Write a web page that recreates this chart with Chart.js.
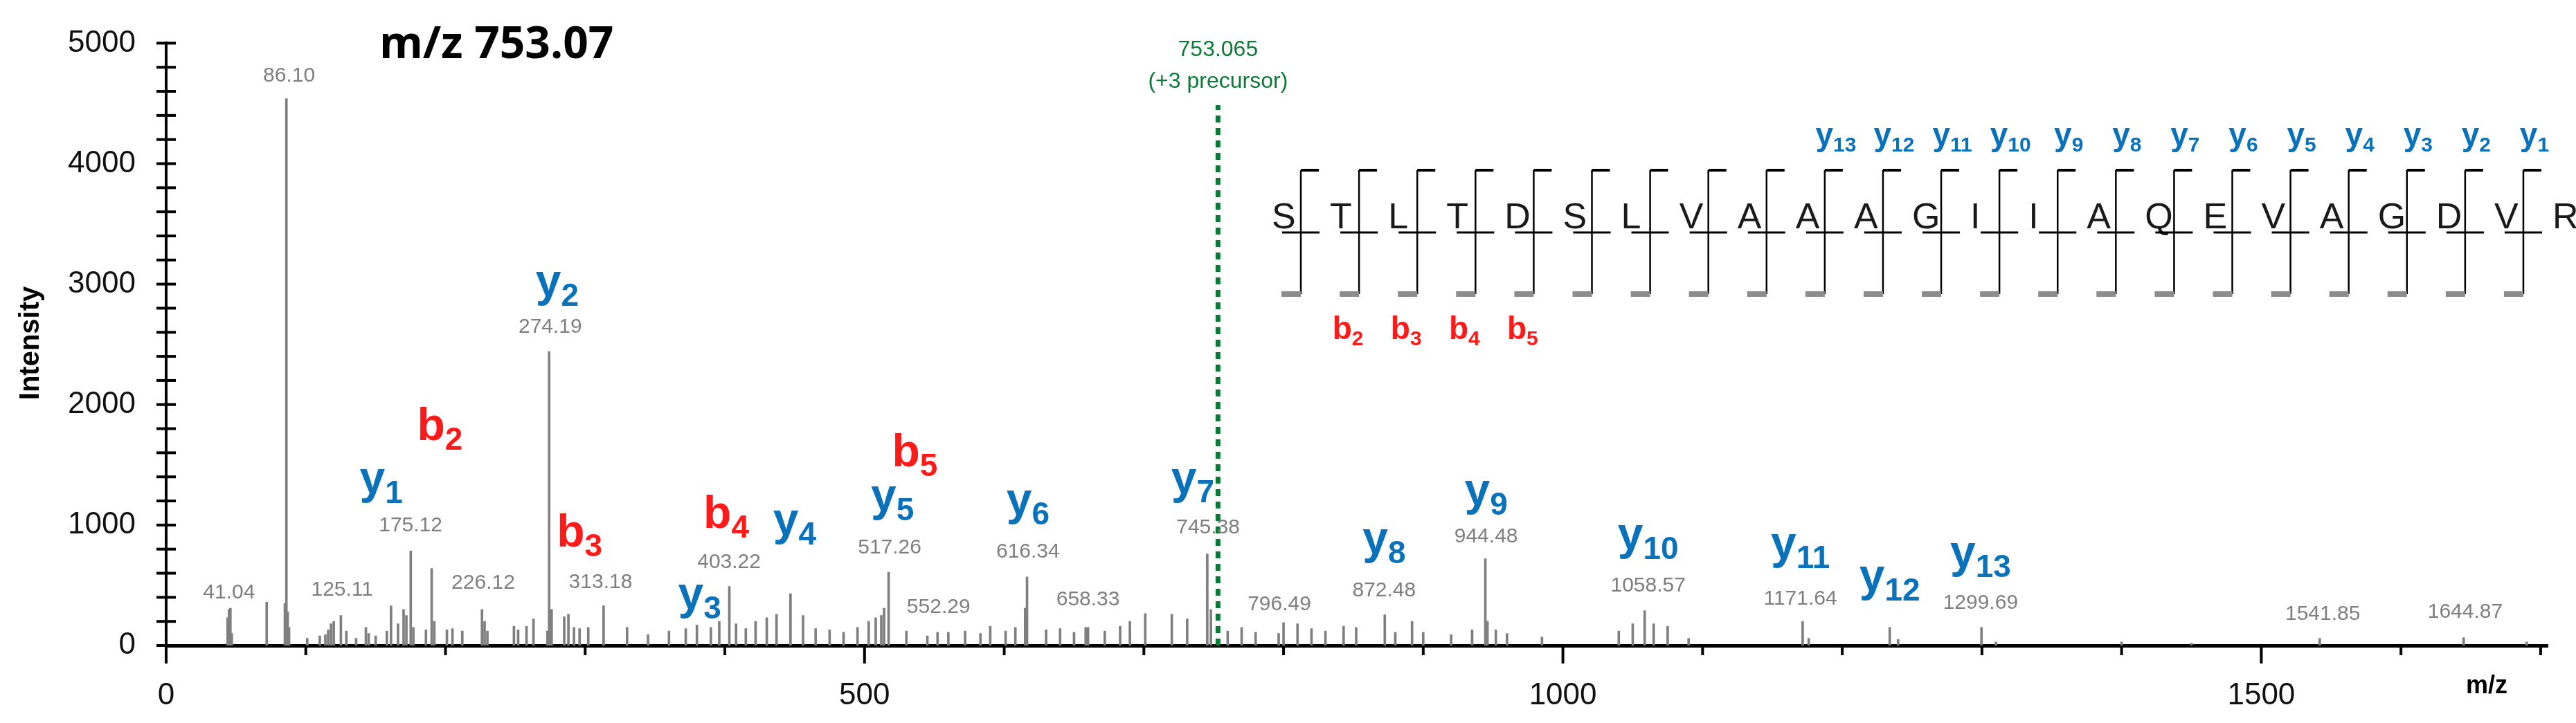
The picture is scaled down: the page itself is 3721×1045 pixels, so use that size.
<!DOCTYPE html>
<html>
<head>
<meta charset="utf-8">
<script src="https://cdn.jsdelivr.net/npm/chart.js@4.4.1/dist/chart.umd.min.js"></script>
<style>
  html, body { margin: 0; padding: 0; background: #fff; }
  #wrap { width: 3721px; height: 1045px; }
</style>
</head>
<body>
<div id="wrap"><canvas id="spec" width="3721" height="1045"></canvas></div>
<script>
// peak list: m/z and intensity
const peakMz = [44, 45, 46, 47, 72, 85, 86.1, 87, 88, 101, 110, 114, 116, 118, 120, 125.11, 129, 136, 143, 145, 150, 158, 161, 166, 170, 172, 175.12, 177, 186, 190.1, 192, 201, 205, 212, 226.12, 228, 230, 249, 252, 258, 263, 273, 274.19, 276, 285, 288, 292, 296, 302.2, 313.18,
  330, 345, 360, 372, 380, 390, 396, 403.22, 408, 415, 422, 430, 437, 447, 456, 465, 475, 485, 495, 503, 508, 512, 514, 517.26, 530, 545, 552.29, 560, 572, 583, 590, 601, 608, 615, 616.34, 630, 640, 650, 658.33, 660, 672, 683, 690, 701, 720, 731, 745.38, 748,
  760, 770, 780, 796.49, 800, 810, 820, 830, 843, 852, 872.48, 880, 892, 900, 920, 935, 944.48, 946, 952, 960, 985,
  1040, 1050, 1058.57, 1065, 1075, 1090, 1171.64, 1176, 1234, 1240, 1299.69, 1310, 1400, 1450, 1541.85, 1644.87, 1690];
const peakInt = [230, 300, 310, 100, 360, 350, 4540, 280, 150, 60, 80, 90, 130, 180, 200, 250, 120, 60, 150, 100, 80, 120, 330, 180, 300, 250, 785, 150, 130, 640, 200, 130, 140, 120, 300, 200, 120, 160, 130, 160, 220, 120, 2440, 300, 240, 260, 150, 140, 150, 330,
  150, 90, 120, 140, 170, 150, 200, 490, 180, 140, 200, 230, 260, 430, 250, 140, 130, 110, 150, 200, 230, 250, 310, 610, 120, 80, 110, 110, 120, 100, 160, 120, 150, 310, 570, 130, 140, 110, 150, 150, 120, 160, 200, 265, 260, 220, 760, 300,
  120, 150, 110, 100, 190, 180, 140, 120, 160, 150, 255, 110, 200, 110, 90, 130, 720, 200, 130, 100, 70,
  120, 180, 290, 180, 160, 60, 200, 60, 150, 50, 150, 30, 30, 20, 60, 65, 30];

// gray m/z annotations above peaks
const valueText = ['41.04', '86.10', '125.11', '175.12', '226.12', '274.19', '313.18', '403.22', '517.26', '552.29', '616.34', '658.33', '745.38', '796.49', '872.48', '944.48', '1058.57', '1171.64', '1299.69', '1541.85', '1644.87'];
const valueMz = [45, 88, 126, 175, 227, 275, 311, 403, 518, 553, 617, 660, 746, 797, 872, 945, 1061, 1170, 1299, 1544, 1646];
const valueY = [440, 4730, 463, 995, 520, 2646, 527, 690, 813, 320, 777, 383, 977, 340, 458, 905, 493, 389, 350, 258, 275];

// fragment ion labels: type, number, m/z, intensity of label centre
const ionList = [['y', '1', 154, 1357], ['b', '2', 196, 1798], ['y', '2', 280, 2995], ['b', '3', 296, 915], ['y', '3', 382, 400], ['b', '4', 401, 1070], ['y', '4', 450, 1015], ['y', '5', 520, 1215], ['b', '5', 536, 1580], ['y', '6', 617, 1180], ['y', '7', 735, 1360], ['y', '8', 872, 857], ['y', '9', 945, 1260], ['y', '10', 1061, 893], ['y', '11', 1170, 819], ['y', '12', 1234, 550], ['y', '13', 1299, 745]];

const precursorMz = 753.065;
const precursorTop = 4485;
const precursorText = ['753.065', '(+3 precursor)'];

const sequence = ['S', 'T', 'L', 'T', 'D', 'S', 'L', 'V', 'A', 'A', 'A', 'G', 'I', 'I', 'A', 'Q', 'E', 'V', 'A', 'G', 'D', 'V', 'R'];
const yIons = [1, 2, 3, 4, 5, 6, 7, 8, 9, 10, 11, 12, 13];
const bIons = [2, 3, 4, 5];

const xMajor = [0, 500, 1000, 1500];
const xMinor = [100, 200, 300, 400, 600, 700, 800, 900, 1100, 1200, 1300, 1400, 1600, 1700];
const yMajor = [0, 1000, 2000, 3000, 4000, 5000];
const yMinor = [200, 400, 600, 800, 1200, 1400, 1600, 1800, 2200, 2400, 2600, 2800, 3200, 3400, 3600, 3800, 4200, 4400, 4600, 4800];

const BLUE = '#0a72bb', RED = '#ff1a1a', GRAY = '#7f7f7f', GREEN = '#0a7a36';

function ionText(ctx, letter, num, cx, cy, color, big, small) {
    ctx.fillStyle = color;
    ctx.font = 'bold ' + big + 'px "Liberation Sans", Arial';
    const w1 = ctx.measureText(letter).width;
    ctx.font = 'bold ' + small + 'px "Liberation Sans", Arial';
    const w2 = ctx.measureText(num).width;
    let x = cx - (w1 + w2) / 2;
    ctx.textAlign = 'left';
    ctx.textBaseline = 'alphabetic';
    ctx.font = 'bold ' + big + 'px "Liberation Sans", Arial';
    ctx.fillText(letter, x, cy + big * 0.25);
    ctx.font = 'bold ' + small + 'px "Liberation Sans", Arial';
    ctx.fillText(num, x + w1, cy + big * 0.25 + small * 0.3);
}

const decorations = {
    id: 'decorations',
    afterDatasetsDraw(chart) {
        const ctx = chart.ctx;
        const xs = chart.scales.x, ys = chart.scales.y;
        const area = chart.chartArea;
        ctx.save();

        // tick marks
        ctx.strokeStyle = '#000';
        ctx.lineWidth = 4;
        yMajor.concat(yMinor).forEach(v => {
            const py = ys.getPixelForValue(v);
            ctx.beginPath(); ctx.moveTo(area.left - 14, py); ctx.lineTo(area.left + 14, py); ctx.stroke();
        });
        xMajor.forEach(v => {
            const px = xs.getPixelForValue(v);
            ctx.beginPath(); ctx.moveTo(px, area.bottom); ctx.lineTo(px, area.bottom + 26); ctx.stroke();
        });
        xMinor.forEach(v => {
            const px = xs.getPixelForValue(v);
            ctx.beginPath(); ctx.moveTo(px, area.bottom); ctx.lineTo(px, area.bottom + 14); ctx.stroke();
        });

        // axis titles
        ctx.fillStyle = '#000';
        ctx.font = 'bold 40px "Liberation Sans", Arial';
        ctx.textAlign = 'center'; ctx.textBaseline = 'middle';
        ctx.save();
        ctx.translate(45, 496); ctx.rotate(-Math.PI / 2);
        ctx.fillText('Intensity', 0, 0);
        ctx.restore();
        ctx.font = 'bold 36px "Liberation Sans", Arial';
        ctx.fillText('m/z', 3592, 992);

        // title
        ctx.font = 'bold 64px "Open Sans", "Liberation Sans", sans-serif';
        ctx.textAlign = 'left';
        ctx.fillText('m/z 753.07', 548, 66);

        // m/z value labels
        ctx.fillStyle = GRAY;
        ctx.font = '30px "Liberation Sans", Arial';
        ctx.textAlign = 'center'; ctx.textBaseline = 'middle';
        valueText.forEach((t, i) => ctx.fillText(t, xs.getPixelForValue(valueMz[i]), ys.getPixelForValue(valueY[i])));

        // precursor label
        ctx.fillStyle = GREEN;
        ctx.font = '32px "Liberation Sans", Arial';
        const pX = xs.getPixelForValue(precursorMz);
        ctx.fillText(precursorText[0], pX, 72);
        ctx.fillText(precursorText[1], pX, 118);

        // ion labels
        ionList.forEach(d => ionText(ctx, d[0], d[1], xs.getPixelForValue(d[2]), ys.getPixelForValue(d[3]), d[0] === 'y' ? BLUE : RED, 66, 46));

        // peptide fragmentation map
        const x0 = 1837, step = (3687 - 1837) / (sequence.length - 1), midY = 330;
        ctx.font = '52px "Liberation Sans Narrow", "Liberation Sans", Arial';
        ctx.fillStyle = '#1a1a1a';
        sequence.forEach((aa, i) => ctx.fillText(aa, x0 + i * step, midY));
        ctx.strokeStyle = '#000';
        for (let j = 0; j < sequence.length - 1; j++) {
            const bx = x0 + (j + 0.5) * step;
            ctx.lineWidth = 3;
            ctx.beginPath(); ctx.moveTo(x0 + j * step + 15, 336); ctx.lineTo(x0 + (j + 1) * step - 15, 336); ctx.stroke();
            ctx.lineWidth = 2.5;
            ctx.beginPath(); ctx.moveTo(bx, 246); ctx.lineTo(bx, 425); ctx.stroke();
            ctx.lineWidth = 4;
            ctx.beginPath(); ctx.moveTo(bx, 246); ctx.lineTo(bx + 26, 246); ctx.stroke();
            ctx.strokeStyle = '#8c8c8c'; ctx.lineWidth = 8;
            ctx.beginPath(); ctx.moveTo(bx - 28, 425); ctx.lineTo(bx, 425); ctx.stroke();
            ctx.strokeStyle = '#000';
        }
        yIons.forEach(k => ionText(ctx, 'y', String(k), x0 + (sequence.length - 1 - k + 0.5) * step + 16, 198, BLUE, 46, 30));
        bIons.forEach(k => ionText(ctx, 'b', String(k), x0 + (k - 1 + 0.5) * step - 16, 478, RED, 46, 30));

        ctx.restore();
    }
};

const ctx = document.getElementById('spec').getContext('2d');
new Chart(ctx, {
    type: 'bar',
    data: {
        datasets: [{
            data: peakMz.map((m, i) => ({ x: m, y: peakInt[i] })),
            backgroundColor: GRAY,
            barThickness: 3,
            grouped: false,
            order: 2
        }, {
            type: 'line',
            data: [{ x: precursorMz, y: 0 }, { x: precursorMz, y: precursorTop }],
            borderColor: GREEN,
            borderWidth: 7,
            borderDash: [10, 8],
            pointRadius: 0,
            order: 1
        }]
    },
    options: {
        responsive: false,
        animation: false,
        layout: { padding: { top: 60, right: 41, left: 0, bottom: 0 } },
        plugins: { legend: { display: false }, tooltip: { enabled: false } },
        scales: {
            x: {
                type: 'linear',
                offset: false,
                min: 0, max: 1705,
                afterBuildTicks: s => { s.ticks = xMajor.map(v => ({ value: v })); },
                afterFit: s => { s.height = 112; },
                grid: { display: false, offset: false },
                border: { display: true, color: '#000', width: 5 },
                ticks: { font: { size: 44, family: '"Liberation Sans", Arial' }, color: '#111', padding: 38, maxRotation: 0, callback: v => String(v) }
            },
            y: {
                min: 0, max: 5000,
                afterBuildTicks: s => { s.ticks = yMajor.map(v => ({ value: v })); },
                afterFit: s => { s.width = 240; },
                grid: { display: false },
                border: { display: true, color: '#000', width: 4 },
                ticks: { font: { size: 44, family: '"Liberation Sans", Arial' }, color: '#111', padding: 36, callback: v => String(v) }
            }
        }
    },
    plugins: [decorations]
});
</script>
</body>
</html>
